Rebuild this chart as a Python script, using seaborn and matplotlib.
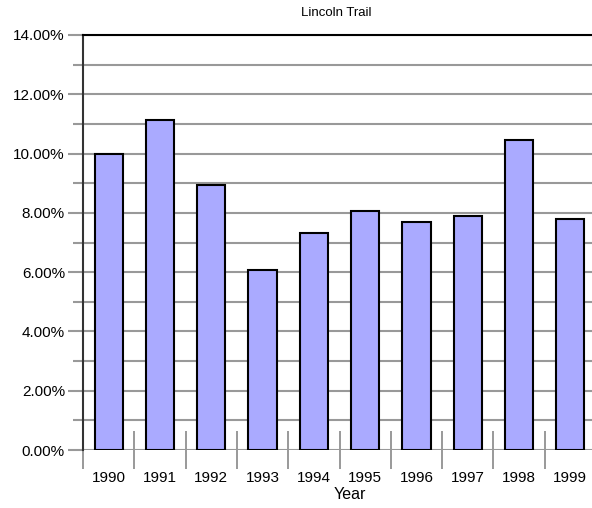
import matplotlib
matplotlib.use("Agg")
import matplotlib.pyplot as plt
import seaborn as sns
import pandas as pd
from matplotlib.ticker import FuncFormatter, MultipleLocator, FixedLocator

years = ["1990", "1991", "1992", "1993", "1994", "1995", "1996", "1997", "1998", "1999"]
rates = [10.0, 11.12, 8.93, 6.06, 7.32, 8.06, 7.70, 7.90, 10.46, 7.80]

sns.set_style("white")
plt.rcParams["font.family"] = ["Liberation Sans", "DejaVu Sans"]
plt.rcParams["text.color"] = "black"
plt.rcParams["axes.labelcolor"] = "black"
plt.rcParams["xtick.labelcolor"] = "black"
plt.rcParams["ytick.labelcolor"] = "black"

df = pd.DataFrame({"Year": years, "Rate": rates})

fig = plt.figure(figsize=(5.92, 5.08), dpi=100)
ax = fig.add_axes([83/592, 58/508, 513/592, 415/508])

ax.set_axisbelow(True)
ax.yaxis.set_major_locator(MultipleLocator(2))
ax.yaxis.set_minor_locator(MultipleLocator(1))
ax.grid(True, which="both", axis="y", color="#999999", linewidth=1.5)
ax.grid(False, axis="x")

sns.barplot(data=df, x="Year", y="Rate", color="#aaaaff", saturation=1,
            edgecolor="black", linewidth=1.5, width=0.55, ax=ax, zorder=3)

ax.set_ylim(0, 14)
ax.set_xlim(-0.5, len(years) - 0.5)
ax.yaxis.set_major_formatter(FuncFormatter(lambda v, p: f"{v:.2f}%"))

ax.xaxis.set_minor_locator(FixedLocator([i - 0.5 for i in range(len(years))]))
ax.tick_params(axis="x", which="major", bottom=True, length=0, pad=15, labelsize=11)
ax.tick_params(axis="x", which="minor", bottom=True, direction="inout", length=27, width=1.2, color="#888888")
ax.tick_params(axis="y", which="major", left=True, direction="out", length=11, width=1.5, color="#999999", labelsize=11, pad=2)
ax.tick_params(axis="y", which="minor", left=True, direction="out", length=7, width=1.5, color="#999999")

for s in ["right", "bottom"]:
    ax.spines[s].set_visible(False)
ax.spines["left"].set_color("#333333")
ax.spines["left"].set_linewidth(1.5)
ax.spines["top"].set_color("black")
ax.spines["top"].set_linewidth(1.5)

ax.set_xlabel("Year", fontsize=11.5)
ax.xaxis.set_label_coords((350 - 83) / 513, -37 / 415)
ax.set_ylabel("")
fig.text(336/592, 1 - 13/508, "Lincoln Trail", ha="center", va="center", fontsize=9.5)

fig.savefig("out.png", dpi=100)
